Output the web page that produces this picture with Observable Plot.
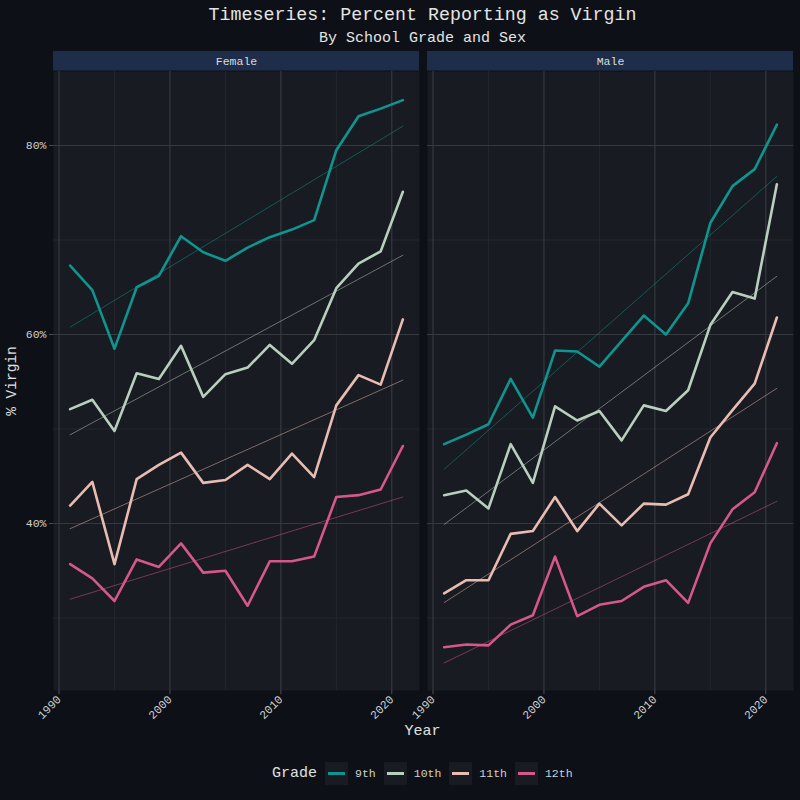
<!DOCTYPE html>
<html>
<head>
<meta charset="utf-8">
<script src="https://cdn.jsdelivr.net/npm/d3@7"></script>
<script src="https://cdn.jsdelivr.net/npm/@observablehq/plot@0.6"></script>
<style>
  html, body { margin: 0; padding: 0; background: #0d1117; width: 800px; height: 800px; overflow: hidden; }
  body { position: relative; font-family: "Liberation Mono", monospace; }
  .abs { position: absolute; }
  #chart { position: absolute; left: 0; top: 48px; }
  .legend { position: absolute; left: 272px; top: 762px; height: 23px; display: flex; align-items: center; color: #d8d8d8; }
  .legend .key { width: 23px; height: 23px; background: #181b21; position: relative; margin-left: 8px; }
  .legend .key span { position: absolute; left: 3px; right: 3px; top: 10px; height: 3px; }
  .legend .lab { font-size: 11.5px; margin-left: 7px; color: #d0d0d0; }
</style>
</head>
<body>
<div class="abs" style="left:0;top:6px;width:845px;text-align:center;font-size:18.3px;line-height:19px;color:#e4e4e4;">Timeseries: Percent Reporting as Virgin</div>
<div class="abs" style="left:0;top:31px;width:845px;text-align:center;font-size:15px;line-height:16px;color:#e4e4e4;">By School Grade and Sex</div>
<div id="chart"></div>
<div class="abs" style="left:-88px;top:372px;width:200px;text-align:center;font-size:14.5px;line-height:18px;color:#e0e0e0;transform:rotate(-90deg);">% Virgin</div>
<div class="abs" style="left:0;top:724px;width:845px;text-align:center;font-size:15px;line-height:16px;color:#e0e0e0;">Year</div>
<div class="legend" id="legend"><span style="font-size:15px;color:#e0e0e0;">Grade</span></div>
<script>
const years = [1991,1993,1995,1997,1999,2001,2003,2005,2007,2009,2011,2013,2015,2017,2019,2021];
const sexes = ["Female", "Male"];
const grades = ["9th", "10th", "11th", "12th"];
const gradeColors = ["#0f9590", "#b9cfbd", "#e8bcb0", "#d6588a"];

const female9  = [67.3,64.7,58.5,65.0,66.2,70.4,68.7,67.8,69.2,70.3,71.1,72.1,79.5,83.1,83.9,84.8];
const female10 = [52.1,53.1,49.8,55.9,55.3,58.8,53.4,55.8,56.5,58.9,56.9,59.4,64.9,67.5,68.8,75.1];
const female11 = [41.9,44.4,35.7,44.7,46.2,47.5,44.3,44.6,46.2,44.7,47.4,44.9,52.5,55.7,54.7,61.6];
const female12 = [35.7,34.2,31.8,36.2,35.4,37.9,34.8,35.0,31.3,36.0,36.0,36.5,42.8,43.0,43.6,48.2];
const male9    = [48.4,49.4,50.5,55.3,51.2,58.3,58.2,56.6,59.3,62.0,60.0,63.3,71.8,75.7,77.5,82.2];
const male10   = [43.0,43.5,41.6,48.4,44.3,52.4,50.9,51.9,48.8,52.5,51.9,54.1,61.0,64.5,63.8,75.9];
const male11   = [32.6,34.0,34.0,38.9,39.2,42.8,39.2,42.1,39.8,42.1,42.0,43.1,49.1,52.0,54.8,61.8];
const male12   = [26.9,27.2,27.1,29.3,30.3,36.5,30.2,31.4,31.8,33.3,34.0,31.6,37.9,41.5,43.3,48.5];

const yearTicks = [1990, 2000, 2010, 2020];
const yearMinor = [1995, 2005, 2015];
const pctTicks = [40, 60, 80];
const pctMinor = [30, 50, 70];

const series = {
  Female: [female9, female10, female11, female12],
  Male: [male9, male10, male11, male12]
};
const rows = [];
for (const sex of sexes) {
  series[sex].forEach((vals, gi) => {
    vals.forEach((v, i) => rows.push({sex, grade: grades[gi], year: years[i], value: v}));
  });
}

const xDom = [1989.5, 2022.5];
const yDom = [22.33, 87.83];
const stripTop = yDom[1] + 20 / 9.45;

const plot = Plot.plot({
  width: 800,
  height: 676,
  marginTop: 23,
  marginBottom: 34,
  marginLeft: 52,
  marginRight: 7,
  style: { background: "transparent", color: "#cfcfcf", fontFamily: "Liberation Mono, monospace", fontSize: "11.5px" },
  fx: { domain: sexes, paddingInner: 0.0214, paddingOuter: 0, align: 0.5, axis: null, label: null },
  x: { domain: xDom, label: null },
  y: { domain: yDom, label: null },
  color: { domain: grades, range: gradeColors },
  marks: [
    Plot.frame({ fill: "#181b21", stroke: null }),
    Plot.rect(sexes, { fx: d => d, x1: xDom[0], x2: xDom[1], y1: yDom[1] + 0.05, y2: stripTop, fill: "#1e2d4a" }),
    Plot.text(sexes, { fx: d => d, text: d => d, frameAnchor: "top", lineAnchor: "middle", dy: -10, fill: "#dcdcdc", fontSize: 11.5 }),
    Plot.ruleX(yearMinor, { stroke: "#22262c", strokeWidth: 1 }),
    Plot.ruleY(pctMinor, { stroke: "#22262c", strokeWidth: 1 }),
    Plot.ruleX(yearTicks, { stroke: "#363940", strokeWidth: 1.2 }),
    Plot.ruleY(pctTicks, { stroke: "#363940", strokeWidth: 1.2 }),
    Plot.axisX({ ticks: yearTicks, tickFormat: d => String(d), tickRotate: -45, tickSize: 4, tickPadding: 3, stroke: "#4a4d54", fill: "#cfcfcf", fontSize: 11.5, label: null }),
    Plot.axisY({ ticks: pctTicks, tickFormat: d => d + "%", tickSize: 4, tickPadding: 3, stroke: "#4a4d54", fill: "#cfcfcf", fontSize: 11.5, label: null }),
    Plot.linearRegressionY(rows, { fx: "sex", x: "year", y: "value", stroke: "grade", ci: 0, strokeWidth: 1, strokeOpacity: 0.5 }),
    Plot.line(rows, { fx: "sex", x: "year", y: "value", z: "grade", stroke: "grade", strokeWidth: 2.6, strokeLinejoin: "round" })
  ]
});
document.getElementById("chart").appendChild(plot);

const legend = document.getElementById("legend");
grades.forEach((g, i) => {
  const key = document.createElement("div");
  key.className = "key";
  const sp = document.createElement("span");
  sp.style.background = gradeColors[i];
  key.appendChild(sp);
  const lab = document.createElement("div");
  lab.className = "lab";
  lab.textContent = g;
  legend.appendChild(key);
  legend.appendChild(lab);
});
</script>
</body>
</html>
